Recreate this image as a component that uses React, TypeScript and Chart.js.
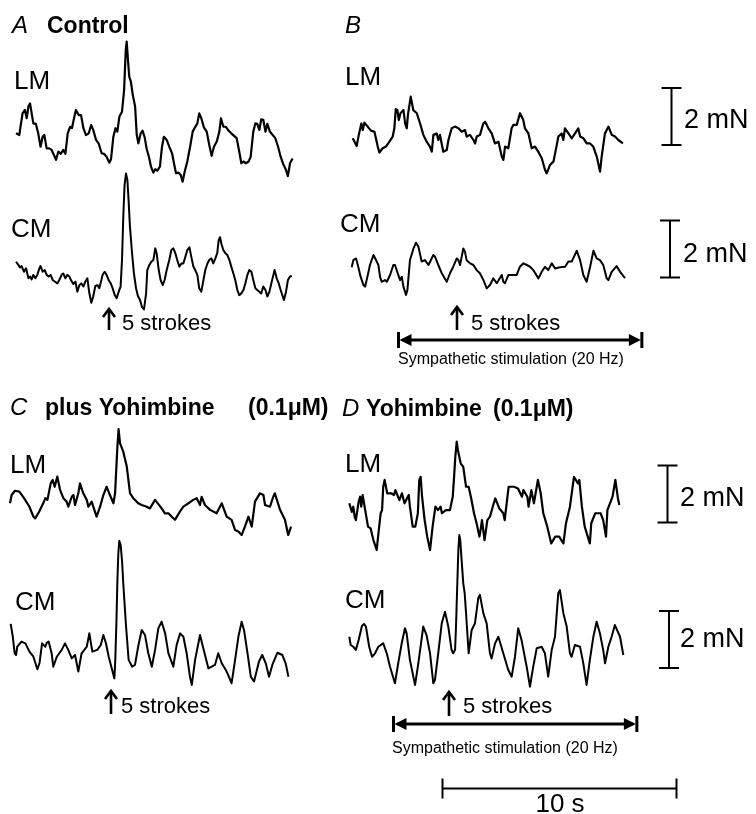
import { useEffect, useRef } from "react";
import { Chart, registerables } from "chart.js";

Chart.register(...registerables);

// ---------- calibration (from the figure's scale bars) ----------
const W = 756;
const H = 814;
const PX_PER_S = 23.4; // 10 s bar
const PX_PER_MN = 28.5; // 2 mN bars
const SCALE_MN = 2;
const SCALE_S = 10;
const STIM_S = 10.4;

// ---------- trace data: [time (s), force (mN)] ----------
const A_LM: number[][] = [
  [0, 0.35], [0.14, 0.29], [0.28, 1.05], [0.38, 1.17], [0.46, 0.88], [0.53, 1.29], [0.6, 1.4], [0.67, 1.05],
  [0.74, 0.7], [0.85, 0.68], [0.95, 0.35], [1.05, -0.12], [1.14, 0.23], [1.21, 0.29], [1.31, -0.18], [1.42, -0.18],
  [1.52, -0.23], [1.62, -0.41], [1.71, -0.58], [1.81, -0.29], [1.91, -0.37], [2.02, -0.23], [2.11, -0.37], [2.21, 0.35],
  [2.31, 0.58], [2.39, 0.53], [2.48, 0.88], [2.56, 1.17], [2.68, 0.99], [2.78, 0.99], [2.88, 0.53], [2.99, 0.29],
  [3.11, 0.35], [3.21, 0.64], [3.3, 0.47], [3.42, 0.12], [3.53, 0.0], [3.66, -0.35], [3.76, -0.37], [3.87, -0.47],
  [3.99, -0.68], [4.06, -0.56], [4.16, 0.23], [4.25, 0.53], [4.33, 0.41], [4.42, 0.94], [4.53, 1.11], [4.62, 1.87],
  [4.69, 3.27], [4.73, 3.57], [4.79, 2.87], [4.84, 2.34], [4.91, 2.16], [4.99, 1.7], [5.09, 1.29], [5.16, 0.29],
  [5.23, 0.0], [5.33, 0.35], [5.41, 0.44], [5.5, 0.21], [5.58, -0.18], [5.68, -0.47], [5.77, -0.82], [5.87, -1.03],
  [5.95, -0.91], [6.04, -0.96], [6.15, -0.82], [6.24, -0.12], [6.32, 0.23], [6.44, 0.12], [6.55, -0.12], [6.67, -0.35],
  [6.78, -0.82], [6.84, -1.05], [6.95, -1.03], [7.04, -1.11], [7.12, -1.35], [7.21, -0.99], [7.32, -0.64], [7.44, -0.12],
  [7.55, 0.41], [7.65, 0.56], [7.75, 0.7], [7.83, 1.05], [7.92, 0.88], [8.03, 0.56], [8.15, 0.41], [8.26, -0.06],
  [8.36, -0.44], [8.46, -0.12], [8.58, 0.06], [8.69, 0.41], [8.76, 0.88], [8.86, 0.58], [8.97, 0.58], [9.09, 0.44],
  [9.2, 0.35], [9.32, 0.26], [9.43, 0.18], [9.54, -0.29], [9.63, -0.7], [9.72, -0.64], [9.83, -0.7], [9.94, -0.64],
  [10.03, -0.47], [10.14, 0.41], [10.23, 0.7], [10.31, 0.68], [10.4, 0.47], [10.48, 0.84], [10.57, 0.82], [10.66, 0.41],
  [10.74, 0.68], [10.85, 0.41], [10.97, 0.29], [11.08, 0.18], [11.2, -0.12], [11.31, -0.47], [11.42, -0.73], [11.54, -0.94],
  [11.62, -1.15], [11.71, -0.7], [11.82, -0.53],
];

const A_CM: number[][] = [
  [0, 0.64], [0.1, 0.53], [0.17, 0.44], [0.24, 0.49], [0.34, 0.29], [0.43, 0.41], [0.53, 0.06], [0.6, 0.12],
  [0.67, 0.02], [0.74, 0.18], [0.83, 0.06], [0.91, 0.18], [1.0, 0.41], [1.05, 0.49], [1.14, 0.29], [1.23, 0.35],
  [1.31, 0.18], [1.4, 0.12], [1.48, 0.18], [1.57, 0.0], [1.67, -0.06], [1.77, -0.12], [1.85, 0.0], [1.95, 0.18],
  [2.02, 0.23], [2.11, 0.06], [2.19, 0.18], [2.28, 0.12], [2.36, -0.02], [2.45, -0.14], [2.54, -0.06], [2.62, -0.41],
  [2.71, -0.18], [2.79, -0.12], [2.88, -0.23], [2.96, -0.06], [3.05, 0.06], [3.13, -0.44], [3.22, -0.8], [3.3, -0.58],
  [3.39, -0.21], [3.48, -0.18], [3.56, -0.29], [3.65, 0.0], [3.7, 0.18], [3.79, 0.29], [3.87, 0.18], [3.96, 0.0],
  [4.05, -0.12], [4.13, -0.29], [4.22, -0.53], [4.3, -0.64], [4.39, -0.41], [4.47, -0.23], [4.53, 0.7], [4.59, 2.34],
  [4.64, 3.33], [4.7, 3.74], [4.76, 3.51], [4.81, 2.81], [4.87, 1.87], [4.96, 0.94], [5.04, 0.23], [5.13, -0.29],
  [5.21, -0.56], [5.3, -0.7], [5.38, -0.94], [5.47, -1.03], [5.56, -0.47], [5.61, 0.35], [5.7, 0.53], [5.78, 0.64],
  [5.87, 0.7], [5.95, 1.11], [6.01, 0.94], [6.1, 0.35], [6.18, 0.0], [6.27, -0.18], [6.35, 0.0], [6.44, 0.35],
  [6.55, 0.7], [6.64, 1.05], [6.72, 1.11], [6.81, 0.94], [6.89, 0.7], [6.98, 0.47], [7.07, 0.58], [7.15, 0.58],
  [7.24, 0.82], [7.32, 1.05], [7.41, 1.15], [7.49, 0.82], [7.58, 0.47], [7.66, 0.35], [7.75, 0.18], [7.83, -0.29],
  [7.92, -0.41], [8.01, 0.0], [8.09, 0.35], [8.18, 0.58], [8.26, 0.7], [8.35, 0.76], [8.43, 0.58], [8.52, 0.76],
  [8.6, 0.94], [8.66, 1.4], [8.72, 1.5], [8.77, 1.29], [8.86, 1.05], [8.95, 0.94], [9.03, 0.88], [9.12, 0.7],
  [9.2, 0.47], [9.29, 0.23], [9.37, 0.0], [9.46, -0.35], [9.54, -0.53], [9.63, -0.47], [9.72, -0.35], [9.8, -0.12],
  [9.89, 0.18], [9.97, 0.35], [10.06, 0.29], [10.14, 0.0], [10.23, -0.29], [10.31, -0.35], [10.4, -0.41], [10.48, -0.47],
  [10.57, -0.23], [10.66, -0.35], [10.74, -0.58], [10.83, -0.41], [10.91, -0.12], [11.0, 0.18], [11.05, 0.35], [11.14, 0.06],
  [11.23, -0.12], [11.31, -0.35], [11.4, -0.58], [11.45, -0.7], [11.54, -0.41], [11.62, 0.0], [11.71, 0.12], [11.79, 0.14],
];

const B_LM: number[][] = [
  [0, 0.06], [0.17, -0.21], [0.26, 0.18], [0.37, 0.58], [0.43, 0.35], [0.5, 0.61], [0.64, 0.47], [0.78, 0.33],
  [0.93, 0.29], [1.07, -0.23], [1.14, -0.44], [1.28, -0.29], [1.42, -0.23], [1.57, -0.06], [1.71, 0.12], [1.78, 0.41],
  [1.84, 1.08], [1.91, 1.05], [1.97, 0.7], [2.04, 0.94], [2.17, 1.05], [2.24, 0.58], [2.31, 0.41], [2.36, 0.88],
  [2.48, 1.52], [2.59, 1.05], [2.74, 0.94], [2.88, 0.58], [3.02, 0.18], [3.16, -0.06], [3.3, -0.23], [3.38, -0.41],
  [3.45, 0.18], [3.59, 0.23], [3.66, 0.0], [3.73, 0.18], [3.87, -0.41], [4.02, -0.35], [4.09, 0.0], [4.23, 0.41],
  [4.37, 0.47], [4.52, 0.41], [4.66, 0.29], [4.8, 0.35], [4.87, 0.12], [5.01, 0.18], [5.16, 0.0], [5.23, -0.12],
  [5.3, 0.12], [5.44, 0.18], [5.58, 0.58], [5.66, 0.64], [5.8, 0.41], [5.94, 0.23], [6.08, -0.12], [6.23, -0.06],
  [6.37, -0.58], [6.44, -0.7], [6.51, -0.23], [6.65, -0.29], [6.79, 0.41], [6.87, 0.53], [7.01, 0.53], [7.15, 0.94],
  [7.29, 0.7], [7.36, 0.41], [7.51, 0.23], [7.65, -0.29], [7.79, -0.23], [7.93, -0.41], [8.08, -0.64], [8.22, -1.05],
  [8.29, -1.17], [8.43, -0.88], [8.58, -0.76], [8.65, -0.47], [8.79, 0.12], [8.93, 0.23], [9.0, 0.0], [9.07, 0.41],
  [9.22, 0.23], [9.36, 0.06], [9.5, 0.23], [9.64, 0.41], [9.72, 0.12], [9.86, 0.06], [10.0, -0.12], [10.14, -0.12],
  [10.28, -0.23], [10.43, -0.58], [10.57, -1.11], [10.64, -0.58], [10.78, 0.23], [10.93, 0.47], [11.07, 0.18], [11.21, 0.12],
  [11.35, 0.0], [11.55, -0.12],
];

const B_CM: number[][] = [
  [0, -0.02], [0.07, 0.23], [0.19, 0.29], [0.28, 0.0], [0.38, -0.35], [0.5, -0.64], [0.57, -0.7], [0.64, -0.47],
  [0.78, 0.06], [0.93, 0.41], [1.07, 0.18], [1.14, 0.06], [1.21, -0.35], [1.28, -0.53], [1.42, -0.47], [1.5, -0.53],
  [1.64, -0.29], [1.78, 0.06], [1.85, 0.06], [1.99, -0.29], [2.07, -0.47], [2.14, -0.35], [2.21, -0.7], [2.32, -0.99],
  [2.38, -0.82], [2.49, 0.23], [2.64, 0.64], [2.75, 0.84], [2.85, 0.7], [2.99, 0.18], [3.13, 0.23], [3.28, 0.06],
  [3.49, 0.41], [3.56, 0.35], [3.7, 0.06], [3.85, -0.23], [4.06, -0.53], [4.2, -0.23], [4.34, 0.0], [4.49, 0.29],
  [4.56, 0.23], [4.63, 0.06], [4.77, 0.64], [4.84, 0.53], [4.91, 0.23], [5.06, 0.12], [5.2, 0.06], [5.34, -0.12],
  [5.48, -0.23], [5.63, -0.47], [5.77, -0.76], [5.91, -0.64], [6.05, -0.41], [6.2, -0.58], [6.41, -0.29], [6.48, -0.53],
  [6.55, -0.58], [6.7, -0.29], [6.91, -0.29], [7.05, -0.29], [7.19, 0.0], [7.34, 0.12], [7.48, 0.06], [7.62, 0.0],
  [7.76, -0.12], [7.98, -0.41], [8.12, -0.18], [8.26, 0.0], [8.4, -0.12], [8.55, 0.12], [8.69, -0.06], [8.9, -0.02],
  [9.12, 0.0], [9.26, 0.18], [9.4, 0.18], [9.62, 0.56], [9.76, 0.23], [9.9, -0.29], [10.04, -0.53], [10.19, 0.0],
  [10.33, 0.56], [10.47, 0.29], [10.61, 0.23], [10.75, 0.06], [10.9, -0.41], [10.97, -0.47], [11.11, -0.18], [11.32, 0.02],
  [11.47, -0.18], [11.68, -0.4],
];

const C_LM: number[][] = [
  [0, 0.0], [0.07, 0.29], [0.21, 0.44], [0.4, 0.41], [0.6, 0.18], [0.83, -0.12], [1.0, -0.47], [1.08, -0.53],
  [1.25, -0.29], [1.42, 0.0], [1.51, 0.18], [1.6, 0.12], [1.74, 0.7], [1.82, 0.82], [1.91, 0.58], [2.02, 0.94],
  [2.14, 0.47], [2.28, 0.18], [2.42, 0.06], [2.49, -0.12], [2.64, 0.23], [2.71, 0.29], [2.78, -0.06], [2.92, 0.35],
  [2.99, 0.7], [3.13, 0.35], [3.28, 0.12], [3.35, -0.12], [3.49, 0.06], [3.7, -0.47], [3.85, -0.12], [3.99, 0.29],
  [4.13, 0.58], [4.27, 0.29], [4.42, 0.0], [4.49, 0.35], [4.59, 1.99], [4.64, 2.6], [4.7, 2.11], [4.84, 1.81],
  [4.99, 1.29], [5.13, 0.35], [5.27, 0.18], [5.48, 0.0], [5.63, -0.06], [5.84, -0.12], [5.98, -0.18], [6.2, 0.12],
  [6.48, -0.18], [6.62, -0.35], [6.77, -0.35], [6.91, -0.47], [7.05, -0.58], [7.26, -0.29], [7.41, -0.12], [7.62, 0.0],
  [7.83, 0.12], [7.98, 0.18], [8.12, -0.06], [8.19, 0.23], [8.33, -0.06], [8.55, -0.23], [8.83, -0.35], [9.05, 0.0],
  [9.26, -0.47], [9.47, -0.58], [9.62, -0.94], [9.76, -0.99], [9.9, -1.11], [10.04, -0.82], [10.19, -0.47], [10.33, -0.82],
  [10.47, 0.06], [10.68, 0.35], [10.83, 0.29], [10.9, -0.06], [11.11, -0.12], [11.25, 0.23], [11.32, 0.35], [11.54, -0.23],
  [11.75, -0.58], [11.89, -1.11], [12.01, -0.82],
];

const C_CM: number[][] = [
  [0, 1.03], [0.09, 0.58], [0.17, 0.0], [0.23, -0.06], [0.28, 0.23], [0.46, 0.41], [0.63, 0.35], [0.8, 0.06],
  [0.97, -0.12], [1.14, -0.56], [1.23, -0.35], [1.34, 0.35], [1.48, 0.23], [1.54, 0.37], [1.62, 0.41], [1.75, 0.0],
  [1.82, -0.47], [1.97, -0.12], [2.18, 0.12], [2.32, 0.35], [2.46, 0.12], [2.61, -0.18], [2.75, -0.06], [2.89, -0.64],
  [3.03, 0.0], [3.25, 0.23], [3.36, 0.7], [3.49, 0.06], [3.7, 0.12], [3.85, 0.29], [3.96, 0.64], [4.07, 0.35],
  [4.19, -0.12], [4.3, -0.47], [4.43, -0.88], [4.47, -0.23], [4.52, 1.17], [4.56, 2.57], [4.6, 3.51], [4.64, 3.95],
  [4.7, 3.8], [4.76, 3.22], [4.81, 2.46], [4.93, 0.94], [5.04, -0.23], [5.19, -0.47], [5.31, -0.41], [5.46, 0.29],
  [5.6, 0.82], [5.74, 0.64], [5.88, 0.0], [6.03, -0.47], [6.17, 0.12], [6.31, 0.88], [6.45, 1.11], [6.6, 0.7],
  [6.74, 0.0], [6.95, -0.47], [7.09, 0.29], [7.24, 0.7], [7.38, 0.58], [7.52, 0.0], [7.66, -0.82], [7.74, -1.11],
  [7.88, -0.23], [8.09, 0.64], [8.23, 0.18], [8.45, -0.53], [8.73, -0.41], [8.87, 0.0], [9.02, -0.35], [9.23, -0.64],
  [9.44, -1.05], [9.59, -0.23], [9.73, 0.58], [9.87, 1.11], [9.97, 0.82], [10.11, 0.06], [10.26, -0.82], [10.4, -0.99],
  [10.61, -0.29], [10.75, -0.06], [10.9, -0.35], [11.04, -0.82], [11.18, -0.41], [11.4, 0.02], [11.61, -0.06], [11.75, -0.35],
  [11.87, -0.82],
];

const D_LM: number[][] = [
  [0, 0.12], [0.11, -0.18], [0.17, 0.0], [0.23, -0.35], [0.28, -0.47], [0.4, 0.18], [0.46, 0.35], [0.51, 0.0],
  [0.57, 0.41], [0.68, -0.12], [0.8, -0.7], [0.91, -0.76], [1.03, -1.17], [1.17, -1.52], [1.23, -1.05], [1.34, -0.23],
  [1.4, -0.12], [1.45, 0.7], [1.51, 0.94], [1.62, 0.47], [1.79, 0.47], [1.91, 0.41], [1.97, 0.58], [2.14, 0.23],
  [2.25, 0.47], [2.36, 0.12], [2.54, 0.41], [2.59, 0.0], [2.71, -0.7], [2.82, -0.7], [2.93, -0.23], [2.99, 0.94],
  [3.05, 1.05], [3.11, 0.35], [3.22, -0.47], [3.33, -1.05], [3.45, -1.52], [3.56, -0.7], [3.68, 0.0], [3.79, -0.12],
  [3.9, 0.0], [3.96, -0.23], [4.13, -0.12], [4.3, -0.12], [4.42, 0.35], [4.47, 0.94], [4.53, 1.75], [4.59, 2.28],
  [4.64, 1.99], [4.76, 1.52], [4.87, 1.4], [4.99, 0.7], [5.1, 0.7], [5.21, 0.29], [5.33, -0.23], [5.44, -0.58],
  [5.56, -1.05], [5.61, -0.82], [5.67, -0.47], [5.78, -1.17], [5.9, -0.47], [6.01, -0.35], [6.13, 0.0], [6.24, 0.29],
  [6.41, -0.06], [6.58, -0.23], [6.64, -0.47], [6.81, 0.7], [7.04, 0.7], [7.21, 0.64], [7.38, 0.35], [7.44, 0.58],
  [7.61, 0.35], [7.66, 0.0], [7.78, 0.58], [7.89, 0.12], [8.06, 0.94], [8.18, 0.47], [8.29, -0.23], [8.46, -0.7],
  [8.63, -1.29], [8.8, -1.05], [8.97, -1.05], [9.15, -1.29], [9.26, -0.58], [9.43, 0.0], [9.6, 1.05], [9.77, 0.82],
  [9.83, 0.94], [9.94, 0.0], [10.06, -0.7], [10.28, -1.29], [10.34, -0.58], [10.51, -0.23], [10.74, -0.23], [10.85, -0.47],
  [10.97, -1.05], [11.03, -0.12], [11.25, 0.35], [11.37, 0.94], [11.48, 0.29], [11.54, 0.06],
];

const D_CM: number[][] = [
  [0, 0.58], [0.06, 0.29], [0.17, 0.23], [0.28, 0.12], [0.4, 0.47], [0.54, 0.96], [0.63, 1.03], [0.71, 0.94],
  [0.85, 0.23], [0.97, -0.12], [1.1, 0.0], [1.24, 0.23], [1.45, 0.35], [1.6, 0.0], [1.74, -0.47], [1.95, -1.05],
  [2.09, -0.35], [2.24, 0.35], [2.38, 0.88], [2.45, 0.7], [2.59, -0.23], [2.81, -1.11], [2.95, -0.35], [3.16, 0.94],
  [3.3, 0.64], [3.45, 0.0], [3.59, -1.05], [3.66, -0.94], [3.8, 0.0], [3.95, 1.05], [4.09, 1.46], [4.23, 0.94],
  [4.37, 0.12], [4.44, 0.0], [4.52, 0.12], [4.56, 0.94], [4.62, 2.57], [4.66, 3.63], [4.7, 4.15], [4.74, 3.98],
  [4.8, 3.27], [4.87, 2.46], [4.93, 2.11], [4.99, 1.4], [5.1, 0.0], [5.23, 0.82], [5.37, 1.05], [5.51, 1.93],
  [5.58, 2.05], [5.73, 1.4], [5.87, 1.05], [6.01, 0.0], [6.08, -0.18], [6.23, 0.35], [6.37, 0.58], [6.58, 0.0],
  [6.79, -0.58], [6.94, -0.82], [7.08, -0.12], [7.22, 0.88], [7.36, 0.47], [7.58, -0.47], [7.72, -1.17], [7.86, -0.47],
  [8.01, 0.18], [8.22, 0.23], [8.36, 0.0], [8.5, -0.82], [8.65, 0.12], [8.79, 0.58], [8.93, 2.11], [9.0, 2.22],
  [9.15, 1.4], [9.29, 0.94], [9.43, 0.0], [9.5, -0.12], [9.64, 0.29], [9.86, 0.23], [10.0, -0.35], [10.14, -1.11],
  [10.28, -0.23], [10.43, 0.58], [10.57, 1.11], [10.71, 0.7], [10.85, 0.12], [10.93, -0.35], [11.07, 0.23], [11.21, 0.58],
  [11.35, 0.99], [11.57, 0.58], [11.71, -0.06],
];

// ---------- layout (page pixels of each trace's start / baseline) ----------
const TRACES = [
  { data: A_LM, px: 16, py: 143.3, lw: 2.2 },
  { data: A_CM, px: 16, py: 280, lw: 2 },
  { data: B_LM, px: 352.7, py: 140, lw: 2.2 },
  { data: B_CM, px: 351.7, py: 266.7, lw: 2 },
  { data: C_LM, px: 10, py: 503.3, lw: 2.2 },
  { data: C_CM, px: 10.7, py: 653.3, lw: 2 },
  { data: D_LM, px: 349.3, py: 506.7, lw: 2.2 },
  { data: D_CM, px: 349.3, py: 653.3, lw: 2 },
];

const FONT = '"Liberation Sans", Arial, Helvetica, sans-serif';

const TEXTS: { t: string; x: number; y: number; f: string; align?: CanvasTextAlign }[] = [
  { t: "A", x: 12, y: 33, f: `italic 24px ${FONT}` },
  { t: "Control", x: 47, y: 33, f: `bold 23px ${FONT}` },
  { t: "B", x: 345, y: 33, f: `italic 24px ${FONT}` },
  { t: "LM", x: 14, y: 89, f: `26px ${FONT}` },
  { t: "CM", x: 11, y: 237, f: `26px ${FONT}` },
  { t: "LM", x: 345, y: 85, f: `26px ${FONT}` },
  { t: "CM", x: 340, y: 232, f: `26px ${FONT}` },
  { t: "5 strokes", x: 122, y: 330, f: `22px ${FONT}` },
  { t: "5 strokes", x: 471, y: 330, f: `22px ${FONT}` },
  { t: "Sympathetic stimulation (20 Hz)", x: 398, y: 364, f: `16px ${FONT}` },
  { t: "C", x: 10, y: 415, f: `italic 24px ${FONT}` },
  { t: "plus Yohimbine", x: 45, y: 415, f: `bold 23px ${FONT}` },
  { t: "(0.1\u03bcM)", x: 248, y: 415, f: `bold 23px ${FONT}` },
  { t: "D", x: 342, y: 416, f: `italic 24px ${FONT}` },
  { t: "Yohimbine", x: 366, y: 416, f: `bold 23px ${FONT}` },
  { t: "(0.1\u03bcM)", x: 493, y: 416, f: `bold 23px ${FONT}` },
  { t: "LM", x: 10, y: 473, f: `26px ${FONT}` },
  { t: "CM", x: 15, y: 610, f: `26px ${FONT}` },
  { t: "LM", x: 345, y: 472, f: `26px ${FONT}` },
  { t: "CM", x: 345, y: 608, f: `26px ${FONT}` },
  { t: "5 strokes", x: 121, y: 713, f: `22px ${FONT}` },
  { t: "5 strokes", x: 463, y: 713, f: `22px ${FONT}` },
  { t: "Sympathetic stimulation (20 Hz)", x: 392, y: 753, f: `16px ${FONT}` },
  { t: "2 mN", x: 684, y: 128, f: `27px ${FONT}` },
  { t: "2 mN", x: 683, y: 262, f: `27px ${FONT}` },
  { t: "2 mN", x: 680, y: 506, f: `27px ${FONT}` },
  { t: "2 mN", x: 680, y: 647, f: `27px ${FONT}` },
  { t: "10 s", x: 560, y: 812, f: `26px ${FONT}`, align: "center" },
];

// stimulus arrows (x centre, tip y, tail y)
const ARROWS = [
  { x: 109, top: 309, bottom: 330 },
  { x: 457, top: 307, bottom: 330 },
  { x: 111, top: 691, bottom: 714 },
  { x: 449, top: 692, bottom: 716 },
];
// 2 mN scale bars (x, bottom y)
const MN_BARS = [
  { x: 671.5, y: 145 },
  { x: 670, y: 277.5 },
  { x: 667.5, y: 522.5 },
  { x: 669, y: 668 },
];
// stimulation bars (left x, y)
const STIM_BARS = [
  { x: 398.5, y: 340 },
  { x: 393.5, y: 724 },
];
const TIME_BAR = { x: 442.5, y: 788.5 };

const annotations = {
  id: "figureAnnotations",
  afterDatasetsDraw(chart: any) {
    const ctx: CanvasRenderingContext2D = chart.ctx;
    const xs = chart.scales.x;
    const ys = chart.scales.y;
    ctx.save();
    ctx.fillStyle = "#000";
    ctx.strokeStyle = "#000";
    ctx.lineCap = "butt";
    // text
    for (const t of TEXTS) {
      ctx.font = t.f;
      ctx.textAlign = t.align || "left";
      ctx.textBaseline = "alphabetic";
      ctx.fillText(t.t, t.x, t.y);
    }
    // arrows
    ctx.lineWidth = 2.6;
    for (const a of ARROWS) {
      ctx.beginPath();
      ctx.moveTo(a.x, a.bottom);
      ctx.lineTo(a.x, a.top + 1);
      ctx.stroke();
      ctx.beginPath();
      ctx.moveTo(a.x - 6, a.top + 8);
      ctx.lineTo(a.x, a.top);
      ctx.lineTo(a.x + 6, a.top + 8);
      ctx.stroke();
    }
    // 2 mN bars
    ctx.lineWidth = 2;
    for (const b of MN_BARS) {
      const v0 = ys.getValueForPixel(b.y);
      const yTop = ys.getPixelForValue(v0 + SCALE_MN);
      ctx.beginPath();
      ctx.moveTo(b.x, b.y);
      ctx.lineTo(b.x, yTop);
      ctx.moveTo(b.x - 10, b.y);
      ctx.lineTo(b.x + 10, b.y);
      ctx.moveTo(b.x - 10, yTop);
      ctx.lineTo(b.x + 10, yTop);
      ctx.stroke();
    }
    // stimulation bars
    for (const s of STIM_BARS) {
      const t0 = xs.getValueForPixel(s.x);
      const xr = xs.getPixelForValue(t0 + STIM_S);
      ctx.lineWidth = 3;
      ctx.beginPath();
      ctx.moveTo(s.x + 4, s.y);
      ctx.lineTo(xr - 4, s.y);
      ctx.stroke();
      ctx.lineWidth = 3;
      ctx.beginPath();
      ctx.moveTo(s.x, s.y - 8);
      ctx.lineTo(s.x, s.y + 8);
      ctx.moveTo(xr, s.y - 8);
      ctx.lineTo(xr, s.y + 8);
      ctx.stroke();
      ctx.beginPath();
      ctx.moveTo(s.x + 1, s.y);
      ctx.lineTo(s.x + 13, s.y - 6);
      ctx.lineTo(s.x + 13, s.y + 6);
      ctx.closePath();
      ctx.fill();
      ctx.beginPath();
      ctx.moveTo(xr - 1, s.y);
      ctx.lineTo(xr - 13, s.y - 6);
      ctx.lineTo(xr - 13, s.y + 6);
      ctx.closePath();
      ctx.fill();
    }
    // 10 s bar
    {
      const t0 = xs.getValueForPixel(TIME_BAR.x);
      const xr = xs.getPixelForValue(t0 + SCALE_S);
      ctx.lineWidth = 2;
      ctx.beginPath();
      ctx.moveTo(TIME_BAR.x, TIME_BAR.y);
      ctx.lineTo(xr, TIME_BAR.y);
      ctx.moveTo(TIME_BAR.x, TIME_BAR.y - 10);
      ctx.lineTo(TIME_BAR.x, TIME_BAR.y + 10);
      ctx.moveTo(xr, TIME_BAR.y - 10);
      ctx.lineTo(xr, TIME_BAR.y + 10);
      ctx.stroke();
    }
    ctx.restore();
  },
};

export default function App() {
  const ref = useRef<HTMLCanvasElement | null>(null);
  useEffect(() => {
    if (!ref.current) return;
    const datasets = TRACES.map((tr) => {
      const x0 = tr.px / PX_PER_S;
      const y0 = -tr.py / PX_PER_MN;
      return {
        data: tr.data.map(([t, v]) => ({ x: x0 + t, y: y0 + v })),
        borderColor: "#000",
        borderWidth: tr.lw,
        pointRadius: 0,
        tension: 0,
        fill: false,
        borderJoinStyle: "round" as const,
      };
    });
    const chart = new Chart(ref.current, {
      type: "line",
      data: { datasets },
      options: {
        responsive: false,
        animation: false,
        parsing: false as any,
        layout: { padding: 0 },
        plugins: { legend: { display: false }, tooltip: { enabled: false } },
        scales: {
          x: { type: "linear", display: false, min: 0, max: W / PX_PER_S },
          y: { type: "linear", display: false, min: -H / PX_PER_MN, max: 0 },
        },
      },
      plugins: [annotations],
    });
    return () => chart.destroy();
  }, []);
  return (
    <div style={{ position: "fixed", left: 0, top: 0, width: W, height: H, background: "#fff" }}>
      <canvas ref={ref} width={W} height={H} style={{ display: "block", width: W, height: H }} />
    </div>
  );
}
